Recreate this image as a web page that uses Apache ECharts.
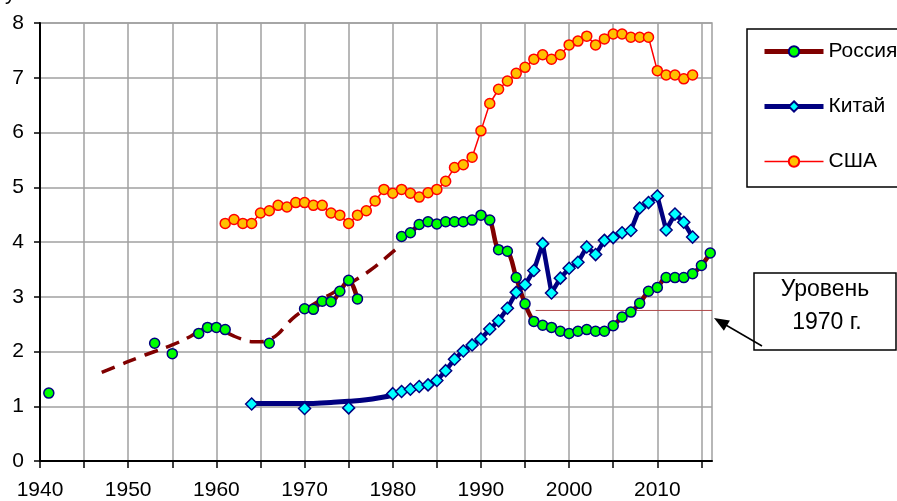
<!DOCTYPE html>
<html><head><meta charset="utf-8">
<script src="https://cdn.jsdelivr.net/npm/echarts@6/dist/echarts.min.js"></script>
<style>html,body{margin:0;padding:0;background:#fff}#c{width:897px;height:501px}</style>
</head><body><div id="c"></div>
<script>
// ---- data ----
const russiaYears = [1941,1953,1955,1958,1959,1960,1961,1966,1970,1971,1972,1973,1974,1975,1976,
  1981,1982,1983,1984,1985,1986,1987,1988,1989,1990,1991,1992,1993,1994,1995,1996,1997,1998,1999,
  2000,2001,2002,2003,2004,2005,2006,2007,2008,2009,2010,2011,2012,2013,2014,2015,2016];
const russiaValues = [1.24,2.15,1.96,2.33,2.44,2.44,2.40,2.15,2.78,2.77,2.92,2.91,3.10,3.30,2.96,
  4.10,4.17,4.32,4.37,4.33,4.37,4.37,4.37,4.40,4.49,4.40,3.86,3.83,3.35,2.87,2.55,2.48,2.44,2.37,
  2.33,2.37,2.40,2.37,2.37,2.47,2.63,2.72,2.88,3.10,3.17,3.35,3.35,3.35,3.42,3.57,3.80];
const russiaTrendYears = [1947,1949,1951,1953,1955,1957,1959,1960,1961,1962,1963,1964,1965,1966,1967,1968,1969,1970,1972,1974,1976,1978,1980,1981];
const russiaTrendValues = [1.62,1.75,1.88,2.00,2.12,2.27,2.44,2.44,2.36,2.28,2.22,2.18,2.18,2.22,2.32,2.50,2.65,2.76,2.96,3.14,3.33,3.55,3.82,3.95];
const chinaYears = [1964,1970,1975,1980,1981,1982,1983,1984,1985,1986,1987,1988,1989,1990,1991,1992,1993,1994,
  1995,1996,1997,1998,1999,2000,2001,2002,2003,2004,2005,2006,2007,2008,2009,2010,2011,2012,2013,2014];
const chinaValues = [1.04,0.96,0.97,1.23,1.27,1.31,1.36,1.39,1.47,1.65,1.86,2.01,2.12,2.23,2.41,2.56,2.79,3.08,
  3.22,3.48,3.97,3.07,3.34,3.52,3.63,3.91,3.77,4.03,4.08,4.17,4.21,4.62,4.72,4.84,4.22,4.51,4.36,4.09];
const chinaTrendYears = [1964,1967,1970,1973,1975,1977,1979,1980];
const chinaTrendValues = [1.05,1.05,1.05,1.07,1.09,1.12,1.17,1.20];
const usaYears = [1961,1962,1963,1964,1965,1966,1967,1968,1969,1970,1971,1972,1973,1974,1975,1976,1977,1978,1979,
  1980,1981,1982,1983,1984,1985,1986,1987,1988,1989,1990,1991,1992,1993,1994,1995,1996,1997,1998,1999,
  2000,2001,2002,2003,2004,2005,2006,2007,2008,2009,2010,2011,2012,2013,2014];
const usaValues = [4.34,4.41,4.34,4.34,4.53,4.57,4.67,4.64,4.72,4.72,4.67,4.67,4.53,4.49,4.34,4.49,4.57,4.75,4.96,
  4.89,4.96,4.89,4.82,4.90,4.96,5.11,5.36,5.41,5.55,6.03,6.53,6.79,6.94,7.08,7.19,7.34,7.42,7.34,7.42,
  7.60,7.67,7.76,7.60,7.71,7.80,7.80,7.74,7.74,7.74,7.13,7.05,7.05,6.98,7.05];
const levelYears = [1996.2, 2016.2];
const levelValue = 2.75;
const xTickValues = [1940,1945,1950,1955,1960,1965,1970,1975,1980,1985,1990,1995,2000,2005,2010,2015];
const xLabelValues = [1940,1950,1960,1970,1980,1990,2000,2010];
const seriesNames = ['Россия','Китай','США'];
const noteLines = ['Уровень','1970 г.'];

// ---- helpers ----
function pairs(years, values) {
  const out = [];
  for (let i = 0; i < years.length; i++) {
    if (i > 0 && years[i] - years[i-1] > 1) out.push([(years[i] + years[i-1]) / 2, '-']);
    out.push([years[i], values[i]]);
  }
  return out;
}
function plain(years, values) { return years.map((y, i) => [y, values[i]]); }

const FONT = 'Liberation Sans, Arial, sans-serif';
const chart = echarts.init(document.getElementById('c'), null, {renderer: 'canvas'});
chart.setOption({
  animation: false,
  backgroundColor: '#fff',
  grid: {left: 40, right: 185, top: 23, bottom: 40, show: true, borderColor: '#a0a0a0', borderWidth: 1.5, backgroundColor: 'transparent'},
  xAxis: {
    type: 'value', min: 1940, max: 2016.2,
    axisLine: {show: true, onZero: false, lineStyle: {color: '#000', width: 2}},
    axisTick: {show: true, length: 7, lineStyle: {color: '#000', width: 1.5}, customValues: xTickValues},
    axisLabel: {customValues: xLabelValues, formatter: v => String(Math.round(v)), fontSize: 21, fontFamily: FONT, color: '#000', margin: 19},
    splitLine: {show: true, lineStyle: {color: '#a0a0a0', width: 1.5}}
  },
  yAxis: {
    type: 'value', min: 0, max: 8, interval: 1,
    axisLine: {show: true, onZero: false, lineStyle: {color: '#000', width: 2}},
    axisTick: {show: true, length: 6, lineStyle: {color: '#000', width: 1.5}},
    axisLabel: {fontSize: 21, fontFamily: FONT, color: '#000', margin: 16},
    splitLine: {show: true, lineStyle: {color: '#a0a0a0', width: 1.5}}
  },
  legend: {
    data: [
      {name: seriesNames[0], lineStyle: {width: 5, color: '#800000'}},
      {name: seriesNames[1], lineStyle: {width: 5, color: '#000080'}},
      {name: seriesNames[2], lineStyle: {width: 1.5, color: '#ff0000'}}
    ],
    orient: 'vertical', left: 747, top: 29,
    padding: [12, 15, 15, 15], itemWidth: 59, itemHeight: 13, itemGap: 34,
    borderColor: '#000', borderWidth: 1.5, backgroundColor: '#fff',
    textStyle: {fontSize: 21, fontFamily: FONT, color: '#000'}
  },
  series: [
    {name: 'trendR', type: 'line', smooth: 0.5, symbol: 'none', silent: true, z: 1,
     data: plain(russiaTrendYears, russiaTrendValues),
     lineStyle: {color: '#800000', width: 3.5, type: [14, 9]}},
    {name: 'Россия', type: 'line', smooth: 0.35, symbol: 'circle', symbolSize: 10, showAllSymbol: true, z: 2,
     data: pairs(russiaYears, russiaValues),
     itemStyle: {color: '#00ff00', borderColor: '#000080', borderWidth: 1.5},
     lineStyle: {color: '#800000', width: 4.5}},
    {name: 'trendC', type: 'line', smooth: 0.5, symbol: 'none', silent: true, z: 3,
     data: plain(chinaTrendYears, chinaTrendValues),
     lineStyle: {color: '#000080', width: 5}},
    {name: 'Китай', type: 'line', symbol: 'diamond', symbolSize: 12, showAllSymbol: true, z: 4,
     data: pairs(chinaYears, chinaValues),
     itemStyle: {color: '#00ffff', borderColor: '#000080', borderWidth: 1.5},
     lineStyle: {color: '#000080', width: 4.5}},
    {name: 'США', type: 'line', symbol: 'circle', symbolSize: 10, showAllSymbol: true, z: 5,
     data: plain(usaYears, usaValues),
     itemStyle: {color: '#ffc000', borderColor: '#ff0000', borderWidth: 1.5},
     lineStyle: {color: '#ff0000', width: 1.5}},
    {name: 'level', type: 'line', symbol: 'none', silent: true, z: 1,
     data: levelYears.map(y => [y, levelValue]),
     lineStyle: {color: '#b04848', width: 1}}
  ],
  graphic: [
    {type: 'text', left: 5, top: -16, style: {text: 'у', font: '21px ' + FONT, fill: '#000'}},
    {type: 'rect', shape: {x: 754, y: 273, width: 142, height: 77}, style: {fill: '#fff', stroke: '#000', lineWidth: 1.5}, z: 10},
    {type: 'text', x: 825, y: 290, style: {text: noteLines[0], font: '23px ' + FONT, fill: '#000', textAlign: 'center', textVerticalAlign: 'middle'}, z: 11},
    {type: 'text', x: 827, y: 323, style: {text: noteLines[1], font: '23px ' + FONT, fill: '#000', textAlign: 'center', textVerticalAlign: 'middle'}, z: 11},
    {type: 'line', shape: {x1: 762, y1: 346, x2: 725, y2: 324.5}, style: {stroke: '#000', lineWidth: 1.5}, z: 11},
    {type: 'polygon', shape: {points: [[714, 318], [729.9, 320.4], [723.9, 330.8]]}, style: {fill: '#000'}, z: 11}
  ]
});
</script>
</body></html>
